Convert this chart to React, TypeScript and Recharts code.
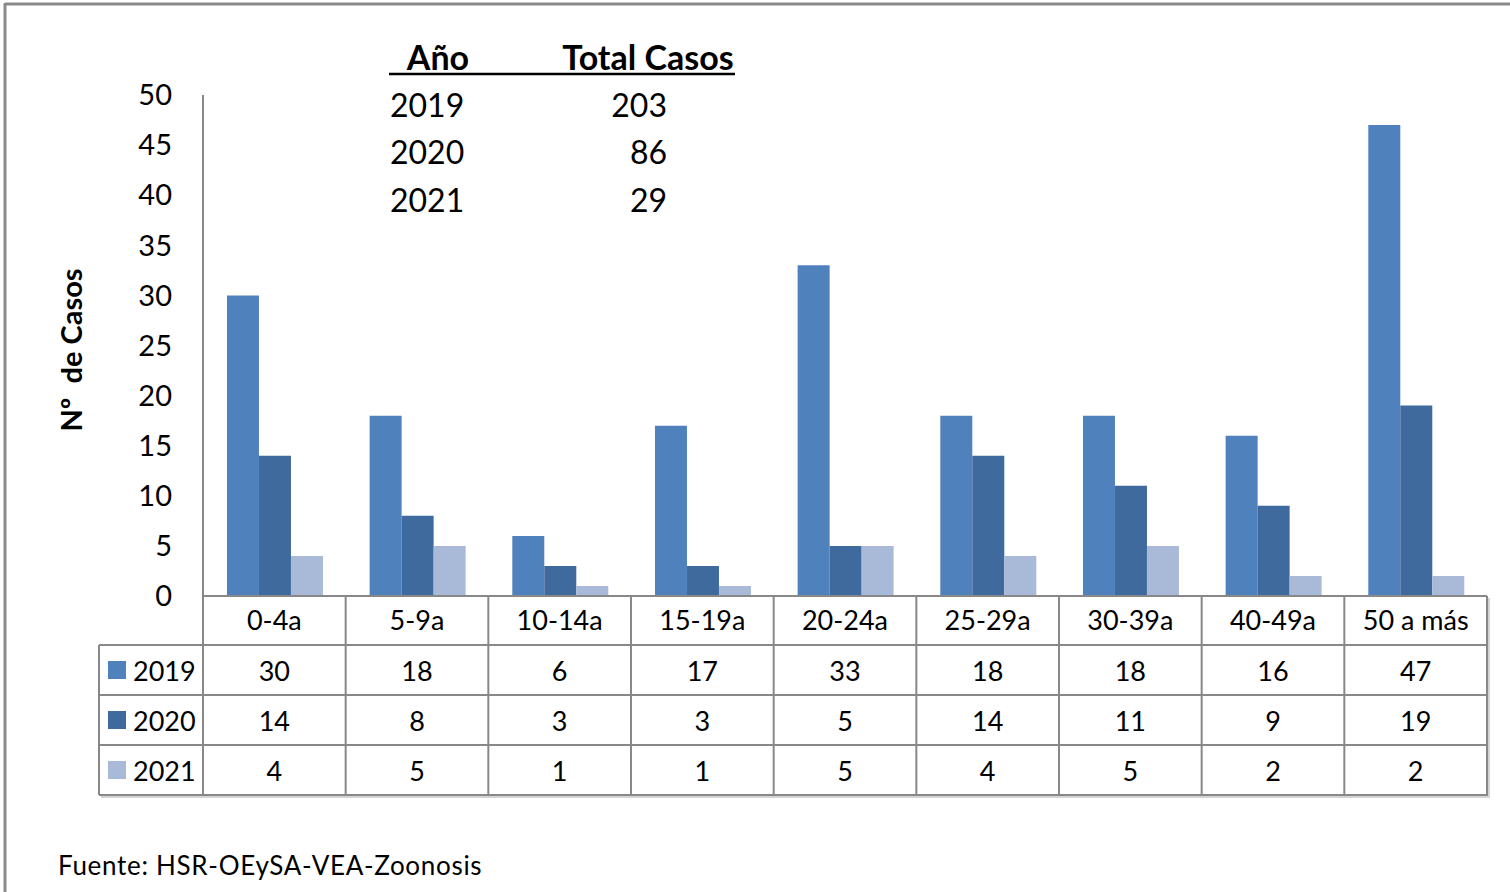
import { BarChart, Bar, XAxis, YAxis } from "recharts";

// Casos por grupo de edad, 2019-2021
const categories = ["0-4a", "5-9a", "10-14a", "15-19a", "20-24a", "25-29a", "30-39a", "40-49a", "50 a más"];
const cases2019 = [30, 18, 6, 17, 33, 18, 18, 16, 47];
const cases2020 = [14, 8, 3, 3, 5, 14, 11, 9, 19];
const cases2021 = [4, 5, 1, 1, 5, 4, 5, 2, 2];
const yTicks = [0, 5, 10, 15, 20, 25, 30, 35, 40, 45, 50];

const years = ["2019", "2020", "2021"];
const totals = [203, 86, 29];

const C2019 = "#4F81BD";
const C2020 = "#3F6A9D";
const C2021 = "#A9BAD8";
const GRID = "#888888";
const FONT = "Lato, 'Open Sans', sans-serif";

const data = categories.map((c, i) => ({
  cat: c,
  y2019: cases2019[i],
  y2020: cases2020[i],
  y2021: cases2021[i],
}));

const rows = [
  { label: "2019", color: C2019, values: cases2019 },
  { label: "2020", color: C2020, values: cases2020 },
  { label: "2021", color: C2021, values: cases2021 },
];

// plot / table layout
const PLOT_L = 203;
const PLOT_R = 1487;
const PLOT_T = 95;
const PLOT_B = 596;
const ROW_H = 50;
const TABLE_L = 99;
const YAXIS_W = 60;

const CategoryTick = (props: any) => {
  const { x, y, payload } = props;
  return (
    <text x={x} y={y + 15} textAnchor="middle" dominantBaseline="central" fontSize={27} fontFamily={FONT} fill="#000">
      {payload.value}
    </text>
  );
};

const App = () => {
  const band = (PLOT_R - PLOT_L) / categories.length;
  const tableBottom = PLOT_B + ROW_H * (rows.length + 1) - 1;

  return (
    <div style={{ position: "fixed", left: 0, top: 0, width: 1510, height: 892, background: "#fff", overflow: "hidden", fontFamily: FONT }}>
      <BarChart
        width={1510}
        height={892}
        data={data}
        barCategoryGap="16.8%"
        barGap={0}
        margin={{ top: PLOT_T, left: PLOT_L - YAXIS_W, right: 1510 - PLOT_R, bottom: 892 - PLOT_B - 49 }}
      >
        <XAxis
          dataKey="cat"
          axisLine={{ stroke: GRID, strokeWidth: 2 }}
          tickLine={false}
          tick={<CategoryTick />}
          interval={0}
          height={49}
        />
        <YAxis
          domain={[0, 50]}
          ticks={yTicks}
          interval={0}
          width={YAXIS_W}
          axisLine={{ stroke: GRID, strokeWidth: 2 }}
          tickLine={false}
          tickSize={0}
          tickMargin={31}
          tick={{ fontSize: 29, fill: "#000", fontFamily: FONT }}
        />
        <Bar dataKey="y2019" fill={C2019} isAnimationActive={false} />
        <Bar dataKey="y2020" fill={C2020} isAnimationActive={false} />
        <Bar dataKey="y2021" fill={C2021} isAnimationActive={false} />
      </BarChart>

      {/* data table, titles, frame */}
      <svg width={1510} height={892} style={{ position: "absolute", left: 0, top: 0, pointerEvents: "none" }}>
        <line x1={5} x2={1510} y1={4} y2={4} stroke="#8a8a8a" strokeWidth={3} />
        <line x1={5} x2={5} y1={3} y2={892} stroke="#8a8a8a" strokeWidth={3} />

        {/* table shadow */}
        <line x1={TABLE_L + 2} x2={PLOT_R + 3} y1={tableBottom + 2} y2={tableBottom + 2} stroke="#d4d4d4" strokeWidth={2} />
        <line x1={PLOT_R + 2} x2={PLOT_R + 2} y1={PLOT_B + 2} y2={tableBottom + 2} stroke="#d4d4d4" strokeWidth={2} />

        {Array.from({ length: categories.length + 1 }, (_, i) => (
          <line key={`hv${i}`} x1={PLOT_L + i * band} x2={PLOT_L + i * band} y1={PLOT_B} y2={tableBottom} stroke={GRID} strokeWidth={2} />
        ))}
        <line x1={TABLE_L} x2={TABLE_L} y1={PLOT_B + ROW_H - 1} y2={tableBottom} stroke={GRID} strokeWidth={2} />
        {rows.map((_, r) => (
          <line key={`h${r}`} x1={TABLE_L} x2={PLOT_R} y1={PLOT_B + ROW_H * (r + 1) - 1} y2={PLOT_B + ROW_H * (r + 1) - 1} stroke={GRID} strokeWidth={2} />
        ))}
        <line x1={TABLE_L} x2={PLOT_R + 1} y1={tableBottom} y2={tableBottom} stroke={GRID} strokeWidth={2} />
        {rows.map((row, r) => {
          const cy = PLOT_B + ROW_H * (r + 1) + 24;
          return (
            <g key={row.label}>
              <rect x={108} y={cy - 9} width={18} height={18} fill={row.color} />
              <text x={133} y={cy} dominantBaseline="central" fontSize={27} fontFamily={FONT} fill="#000">
                {row.label}
              </text>
              {row.values.map((v, i) => (
                <text key={i} x={PLOT_L + (i + 0.5) * band} y={cy} textAnchor="middle" dominantBaseline="central" fontSize={27} fontFamily={FONT} fill="#000">
                  {v}
                </text>
              ))}
            </g>
          );
        })}

        {/* y axis title */}
        <text
          x={70}
          y={350}
          transform="rotate(-90 70 350)"
          textAnchor="middle"
          dominantBaseline="central"
          fontSize={29}
          fontWeight="bold"
          fontFamily={FONT}
          fill="#000"
          style={{ whiteSpace: "pre" }}
        >
          {"Nº  de Casos"}
        </text>

        {/* totals inset */}
        <text x={438} y={56} textAnchor="middle" dominantBaseline="central" fontSize={34} fontWeight="bold" fontFamily={FONT} fill="#000">
          Año
        </text>
        <text x={648} y={56} textAnchor="middle" dominantBaseline="central" fontSize={34} fontWeight="bold" fontFamily={FONT} fill="#000">
          Total Casos
        </text>
        <line x1={389} x2={735} y1={74} y2={74} stroke="#000" strokeWidth={2.5} />
        {years.map((yr, i) => (
          <g key={yr}>
            <text x={390} y={104 + i * 47.5} dominantBaseline="central" fontSize={32} fontFamily={FONT} fill="#000">
              {yr}
            </text>
            <text x={667} y={104 + i * 47.5} textAnchor="end" dominantBaseline="central" fontSize={32} fontFamily={FONT} fill="#000">
              {totals[i]}
            </text>
          </g>
        ))}

        <text x={58} y={865} dominantBaseline="central" fontSize={26} letterSpacing={0.7} fontFamily={FONT} fill="#000">
          Fuente: HSR-OEySA-VEA-Zoonosis
        </text>
      </svg>
    </div>
  );
};

export default App;
